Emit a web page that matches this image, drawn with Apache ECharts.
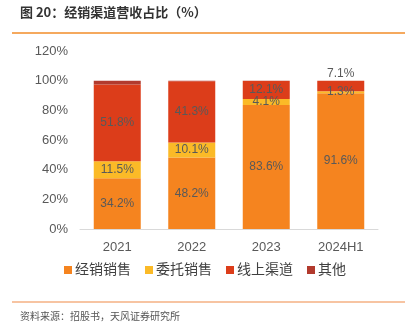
<!DOCTYPE html>
<html><head><meta charset="utf-8">
<script src="https://cdn.jsdelivr.net/npm/echarts@6/dist/echarts.min.js"></script>
<style>html,body{margin:0;padding:0;background:#fff}#c{width:410px;height:332px}</style>
</head><body><div id="c"></div>
<script>
const categories = ['2021', '2022', '2023', '2024H1'];
const distributor = [34.2, 48.2, 83.6, 91.6];
const consignment = [11.5, 10.1, 4.1, 1.3];
const online = [51.8, 41.3, 12.1, 7.1];
const other = [2.5, 0.4, 0.2, 0.0];
const yTicks = [0, 20, 40, 60, 80, 100, 120];

const FONT = '"Liberation Sans", "Noto Sans CJK SC", sans-serif';
const labelStyle = {show: true, position: 'inside', color: '#595959', fontSize: 12, fontFamily: FONT,
  formatter: p => p.value.toFixed(1) + '%'};

function mk(name, data, color, label, customLabel) {
  return {
    name, type: 'bar', stack: 'total', barWidth: 47,
    data: data.map((v, i) => {
      const o = {value: v};
      if (customLabel && customLabel[i]) o.label = customLabel[i];
      return o;
    }),
    itemStyle: {color},
    label: label ? labelStyle : {show: false}
  };
}

const chart = echarts.init(document.getElementById('c'), null, {renderer: 'canvas'});
chart.setOption({
  animation: false,
  textStyle: {fontFamily: FONT},
  grid: {left: 80, right: 32, top: 51, bottom: 103},
  xAxis: {
    type: 'category', data: categories,
    axisLine: {lineStyle: {color: '#d9d9d9', width: 1}},
    axisTick: {show: false},
    axisLabel: {color: '#595959', fontSize: 13, margin: 12, fontFamily: FONT}
  },
  yAxis: {
    type: 'value', min: 0, max: 120, interval: 20,
    splitLine: {show: false},
    axisLine: {show: false}, axisTick: {show: false},
    axisLabel: {color: '#595959', fontSize: 13, margin: 12, fontFamily: FONT, formatter: v => v + '%'}
  },
  legend: {
    bottom: 50, left: 'center', itemWidth: 8, itemHeight: 8, itemGap: 14,
    icon: 'rect',
    textStyle: {color: '#404040', fontSize: 14, fontFamily: FONT, padding: [0, 0, 0, -2]},
    data: ['经销销售', '委托销售', '线上渠道', '其他']
  },
  series: [
    mk('经销销售', distributor, '#F5841F', true),
    mk('委托销售', consignment, '#FBBA27', true),
    mk('线上渠道', online, '#DC3D1A', true, [null, null, null, {position: 'top', distance: 1}]),
    mk('其他', other, '#B23A2D', false)
  ],
  graphic: [
    {type: 'text', left: 20, top: 6, style: {text: '图 20：经销渠道营收占比（%）', fill: '#333', fontSize: 13, fontWeight: 'bold', fontFamily: '"Noto Sans CJK SC", sans-serif'}},
    {type: 'line', shape: {x1: 12, y1: 33, x2: 405, y2: 33}, style: {stroke: '#F28C28', lineWidth: 1.5}},
    {type: 'line', shape: {x1: 12, y1: 302, x2: 405, y2: 302}, style: {stroke: '#F4B183', lineWidth: 1.5}},
    {type: 'text', left: 20, top: 311, style: {text: '资料来源：招股书，天风证券研究所', fill: '#555', fontSize: 10, fontFamily: '"Noto Sans CJK SC", sans-serif'}}
  ]
});
</script></body></html>
